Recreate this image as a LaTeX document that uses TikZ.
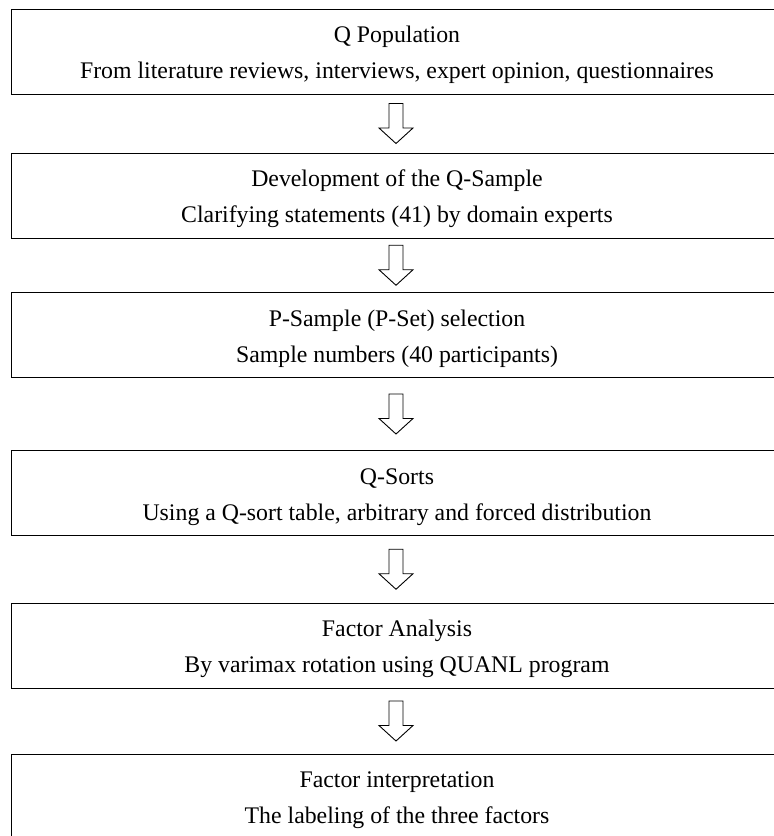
\documentclass[tikz,border=0pt]{standalone}
\usepackage{fontspec}
\setmainfont{Liberation Serif}
\newcommand{\toplift}{\rule{0pt}{24pt}}
\begin{document}
\begin{tikzpicture}[x=1pt,y=-1pt,
  stagebox/.style={draw=black,line width=1pt,minimum width=772pt,minimum height=85pt,
    align=center,inner sep=0pt,font=\fontsize{23.8}{36}\selectfont},
  downarrow/.pic={\draw[line width=0.9pt,line join=miter,fill=white]
    (-7,-20) -- (7,-20) -- (7,4.5) -- (17,4.5) -- (0,20) -- (-17,4.5) -- (-7,4.5) -- cycle;}]
\useasboundingbox (0,0) rectangle (774,836);
\node[stagebox] (b1) at (397,51.5) {\toplift Q Population\\From literature reviews, interviews, expert opinion, questionnaires};
\node[stagebox] (b2) at (397,195.5) {\toplift Development of the Q-Sample\\Clarifying statements (41) by domain experts};
\node[stagebox] (b3) at (397,335) {\toplift P-Sample (P-Set) selection\\Sample numbers (40 participants)};
\node[stagebox] (b4) at (397,493) {\toplift Q-Sorts\\Using a Q-sort table, arbitrary and forced distribution};
\node[stagebox] (b5) at (397,645.5) {\toplift Factor Analysis\\By varimax rotation using QUANL program};
\node[stagebox] (b6) at (397,796.5) {\toplift Factor interpretation\\The labeling of the three factors};
\path (b1.south) -- coordinate[midway] (m1) (b2.north);
\path (b2.south) -- coordinate[midway] (m2) (b3.north);
\path (b3.south) -- coordinate[midway] (m3) (b4.north);
\path (b4.south) -- coordinate[midway] (m4) (b5.north);
\path (b5.south) -- coordinate[midway] (m5) (b6.north);
\pic at ([xshift=-1pt]m1) {downarrow};
\pic at ([xshift=-1pt]m2) {downarrow};
\pic at ([xshift=-1pt]m3) {downarrow};
\pic at ([xshift=-1pt]m4) {downarrow};
\pic at ([xshift=-1pt]m5) {downarrow};
\end{tikzpicture}
\end{document}
